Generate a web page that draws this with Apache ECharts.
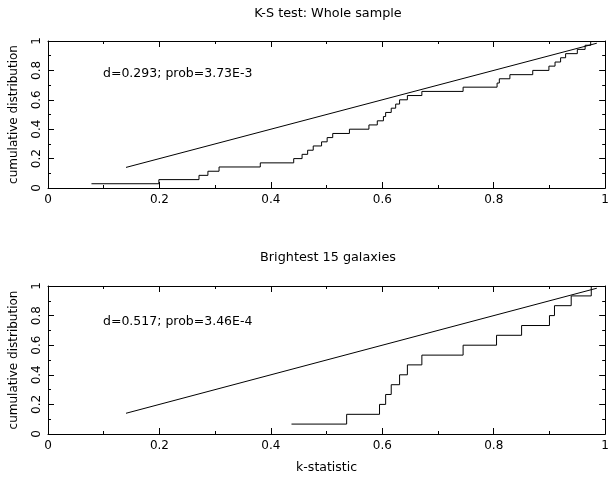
<!DOCTYPE html>
<html>
<head>
<meta charset="utf-8">
<script src="https://cdn.jsdelivr.net/npm/echarts@6/dist/echarts.min.js"></script>
<style>
html,body{margin:0;padding:0;background:#fff;}
#chart{width:612px;height:478px;}
</style>
</head>
<body>
<div id="chart"></div>
<script>
// ---- data ----
var titleTop = 'K-S test: Whole sample';
var titleBottom = 'Brightest 15 galaxies';
var noteTop = 'd=0.293; prob=3.73E-3';
var noteBottom = 'd=0.517; prob=3.46E-4';
var xName = 'k-statistic';
var yName = 'cumulative distribution';

// Whole sample (35 galaxies): k-statistic where each cumulative level starts
var wholeX = [0.078, 0.199, 0.271, 0.287, 0.307, 0.381, 0.441, 0.456, 0.466, 0.476,
              0.491, 0.501, 0.511, 0.541, 0.576, 0.591, 0.602, 0.606, 0.616, 0.624,
              0.631, 0.645, 0.671, 0.745, 0.806, 0.810, 0.829, 0.870, 0.899, 0.910,
              0.920, 0.929, 0.950, 0.964, 0.974];
var wholeY = [0.029, 0.057, 0.086, 0.114, 0.143, 0.171, 0.200, 0.229, 0.257, 0.286,
              0.314, 0.343, 0.371, 0.400, 0.429, 0.457, 0.486, 0.514, 0.543, 0.571,
              0.600, 0.629, 0.657, 0.686, 0.714, 0.743, 0.771, 0.800, 0.829, 0.857,
              0.886, 0.914, 0.943, 0.971, 1.000];

// Brightest 15 galaxies
var brightX = [0.437, 0.536, 0.595, 0.606, 0.616, 0.631, 0.645, 0.671, 0.745, 0.805,
               0.850, 0.900, 0.909, 0.939, 0.975];
var brightY = [0.067, 0.133, 0.200, 0.267, 0.333, 0.400, 0.467, 0.533, 0.600, 0.667,
               0.733, 0.800, 0.867, 0.933, 1.000];

// reference (uniform) distribution line end points
var refX = [0.14, 0.985];
var refY = [0.14, 0.985];

// ---- chart ----
var FONT = 'DejaVu Sans';
function pairs(xs, ys){ var o=[]; for (var i=0;i<xs.length;i++) o.push([xs[i], ys[i]]); return o; }

var chart = echarts.init(document.getElementById('chart'), null, {renderer:'canvas'});

function xAxes(g, labels){
  var base = {
    type:'value', gridIndex:g, min:0, max:1, interval:0.2,
    axisLine:{show:true, onZero:false, lineStyle:{color:'#000', width:1}},
    axisTick:{show:true, inside:true, length:6, lineStyle:{color:'#000', width:1}},
    minorTick:{show:true, splitNumber:2, length:3, lineStyle:{color:'#000', width:1}},
    splitLine:{show:false}, minorSplitLine:{show:false}
  };
  var bottom = Object.assign({}, base, {
    position:'bottom',
    axisLabel:{show:true, color:'#000', fontSize:12, fontFamily:FONT, margin:6}
  });
  if (labels) {
    bottom.name = xName; bottom.nameLocation = 'middle'; bottom.nameGap = 27;
    bottom.nameTextStyle = {color:'#000', fontSize:12.5, fontFamily:FONT};
  }
  var top = Object.assign({}, base, {position:'top', axisLabel:{show:false}});
  return [bottom, top];
}
function yAxes(g){
  var base = {
    type:'value', gridIndex:g, min:0, max:1, interval:0.2,
    axisLine:{show:true, onZero:false, lineStyle:{color:'#000', width:1}},
    axisTick:{show:true, inside:true, length:6, lineStyle:{color:'#000', width:1}},
    minorTick:{show:true, splitNumber:2, length:3, lineStyle:{color:'#000', width:1}},
    splitLine:{show:false}, minorSplitLine:{show:false}
  };
  var left = Object.assign({}, base, {
    position:'left',
    axisLabel:{show:true, rotate:90, color:'#000', fontSize:12, fontFamily:FONT, margin:5},
    name:yName, nameLocation:'middle', nameGap:28, nameRotate:90,
    nameTextStyle:{color:'#000', fontSize:12, fontFamily:FONT}
  });
  var right = Object.assign({}, base, {position:'right', axisLabel:{show:false}});
  return [left, right];
}

var xa = xAxes(0, false).concat(xAxes(1, true));
var ya = yAxes(0).concat(yAxes(1));

var lineStyle = {color:'#000', width:1};

var option = {
  animation:false,
  backgroundColor:'#fff',
  grid:[
    {left:46, top:41, width:566, height:147},
    {left:46, top:286, width:566, height:148}
  ],
  xAxis: xa,
  yAxis: ya,
  series:[
    {type:'line', xAxisIndex:0, yAxisIndex:0, step:'end', showSymbol:false, symbol:'none',
     data:pairs(wholeX, wholeY), lineStyle:lineStyle, silent:true},
    {type:'line', xAxisIndex:0, yAxisIndex:0, showSymbol:false, symbol:'none',
     data:pairs(refX, refY), lineStyle:lineStyle, silent:true},
    {type:'line', xAxisIndex:2, yAxisIndex:2, step:'end', showSymbol:false, symbol:'none',
     data:pairs(brightX, brightY), lineStyle:lineStyle, silent:true},
    {type:'line', xAxisIndex:2, yAxisIndex:2, showSymbol:false, symbol:'none',
     data:pairs(refX, refY), lineStyle:lineStyle, silent:true}
  ],
  graphic:[
    {type:'text', x:328, y:14, style:{text:titleTop, fill:'#000', font:'12.8px "DejaVu Sans"', textAlign:'center', textVerticalAlign:'middle'}},
    {type:'text', x:328, y:258, style:{text:titleBottom, fill:'#000', font:'12.8px "DejaVu Sans"', textAlign:'center', textVerticalAlign:'middle'}},
    {type:'text', x:103, y:74, style:{text:noteTop, fill:'#000', font:'12.5px "DejaVu Sans"', textAlign:'left', textVerticalAlign:'middle'}},
    {type:'text', x:103, y:322, style:{text:noteBottom, fill:'#000', font:'12.5px "DejaVu Sans"', textAlign:'left', textVerticalAlign:'middle'}}
  ]
};
chart.setOption(option);
</script>
</body>
</html>
